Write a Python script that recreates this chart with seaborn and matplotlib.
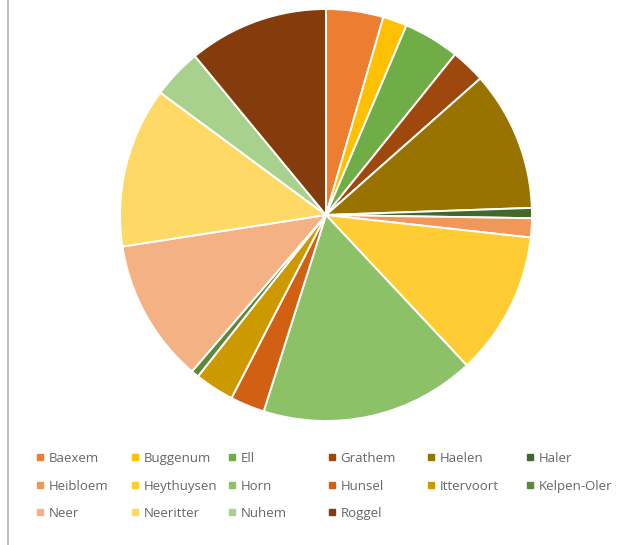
import matplotlib
matplotlib.use("Agg")
import matplotlib.pyplot as plt
from matplotlib.lines import Line2D
import seaborn as sns

categories = ["Baexem", "Buggenum", "Ell", "Grathem", "Haelen", "Haler",
              "Heibloem", "Heythuysen", "Horn", "Hunsel", "Ittervoort", "Kelpen-Oler",
              "Neer", "Neeritter", "Nuhem", "Roggel"]
values = [4.5, 1.9, 4.4, 2.7, 11.0, 0.8, 1.5, 11.3, 16.9, 2.7, 3.1, 0.6, 11.3, 12.6, 3.9, 11.0]
colors = ["#ED7D31", "#FFC000", "#70AD47", "#9E480E", "#997300", "#43682B",
          "#F1975A", "#FFCD33", "#8CC168", "#D26012", "#CC9A00", "#5A8A39",
          "#F4B183", "#FFD966", "#A9D18E", "#843C0C"]

sns.set_theme(style="white")
plt.rcParams['font.family'] = ['Open Sans', 'DejaVu Sans']

W, H = 634, 545
fig = plt.figure(figsize=(W / 100, H / 100), dpi=100)
fig.patch.set_facecolor("white")

cx, cy, r = 326, 215, 206
ax = fig.add_axes([(cx - r) / W, (H - cy - r) / H, 2 * r / W, 2 * r / H])
ax.pie(values, colors=colors, startangle=90, counterclock=False,
       wedgeprops=dict(edgecolor="white", linewidth=1.4))
ax.set_aspect("equal")
ax.set_xlim(-1, 1)
ax.set_ylim(-1, 1)
ax.axis("off")

# left border line
fig.add_artist(Line2D([8 / W, 8 / W], [0, 1], transform=fig.transFigure,
                      color="#BFBFBF", linewidth=1.5))

handles = [Line2D([], [], marker="s", linestyle="none", markersize=4,
                  markerfacecolor=c, markeredgecolor=c) for c in colors]
fs = 9.5
fs_px = fs * 100 / 72
hl = 0.6
col_x = [40, 135, 232, 332, 431, 530]
ncol = 6
for c in range(ncol):
    idx = list(range(c, len(categories), ncol))
    leg = fig.legend([handles[i] for i in idx], [categories[i] for i in idx],
                     loc="upper left",
                     bbox_to_anchor=((col_x[c] - hl * fs_px / 2) / W, 1 - 452 / H),
                     frameon=False, fontsize=fs, handlelength=hl, handletextpad=0.35,
                     labelspacing=1.1, borderpad=0, borderaxespad=0)
    for t in leg.get_texts():
        t.set_color("#666666")

fig.savefig("out.png", dpi=100, facecolor="white")
